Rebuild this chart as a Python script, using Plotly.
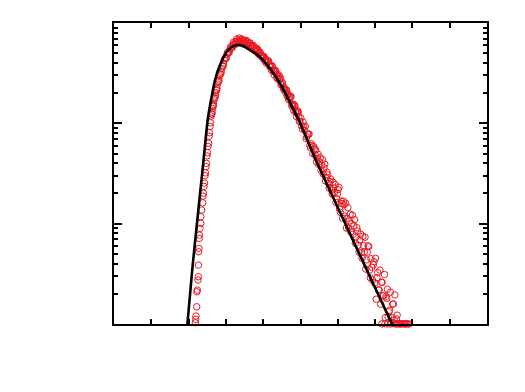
import plotly.graph_objects as go

# Fitted curve (black line): x and log10(y)
fit_x = [1.944, 2.097, 2.233, 2.373, 2.512, 2.601, 2.708, 2.842, 3.003, 3.137, 3.298,
         3.458, 3.646, 3.914, 4.182, 4.450, 4.987, 5.389, 5.657, 6.193, 6.729, 7.445, 7.50]
fit_log10_y = [-3.10, -2.463, -1.964, -1.466, -0.967, -0.768, -0.568, -0.419, -0.299, -0.244, -0.219,
               -0.229, -0.269, -0.339, -0.454, -0.603, -0.997, -1.346, -1.565, -1.994, -2.423, -2.994, -3.04]

# Measured distribution (red open circles): x and log10(y)
rise_x = [2.180, 2.190, 2.198, 2.217, 2.222, 2.233, 2.252, 2.260, 2.265, 2.271, 2.279, 2.285, 2.290,
          2.306, 2.324, 2.330, 2.351, 2.378,
          2.386, 2.399, 2.413, 2.426, 2.440, 2.453, 2.466, 2.480, 2.493, 2.507, 2.520, 2.536, 2.550,
          2.563, 2.576, 2.590,
          2.606, 2.622, 2.641, 2.660, 2.681, 2.702, 2.727, 2.751, 2.775, 2.802, 2.828, 2.858, 2.890,
          2.922, 2.957, 2.995, 3.029, 3.070, 3.110, 3.150, 3.190, 3.231, 3.271, 3.311, 3.351]
rise_log10_y = [-2.988, -2.954, -2.921, -2.828, -2.679, -2.662, -2.562, -2.529, -2.413, -2.280, -2.246,
                -2.147, -2.114, -2.047, -1.997, -1.931, -1.864, -1.792,
                -1.725, -1.697, -1.628, -1.596, -1.522, -1.494, -1.431, -1.399, -1.325, -1.293, -1.230,
                -1.199, -1.128, -1.094, -1.030, -0.995,
                -0.927, -0.909, -0.851, -0.827, -0.766, -0.746, -0.694, -0.671, -0.609, -0.583, -0.527,
                -0.508, -0.454, -0.429, -0.371, -0.355, -0.309, -0.296, -0.259, -0.247, -0.213, -0.209,
                -0.182, -0.185, -0.168]

peak_x = [2.614, 2.632, 2.651, 2.671, 2.692, 2.715, 2.739, 2.763, 2.789, 2.815, 2.843, 2.874, 2.906,
          2.940, 2.976, 3.012, 3.050, 3.090, 3.130, 3.170, 3.211, 3.251, 3.291, 3.331, 3.365]
peak_log10_y = [-0.905, -0.890, -0.828, -0.812, -0.749, -0.730, -0.666, -0.650, -0.588, -0.570, -0.507,
                -0.491, -0.428, -0.410, -0.352, -0.346, -0.290, -0.292, -0.235, -0.245, -0.190, -0.214,
                -0.160, -0.195, -0.150]

fall_x = [3.41, 3.44, 3.47, 3.50, 3.53, 3.56, 3.59, 3.62, 3.65, 3.68, 3.71, 3.74, 3.77, 3.80, 3.83,
          3.86, 3.89, 3.92, 3.95, 3.98, 4.01, 4.04, 4.07, 4.10, 4.13, 4.16, 4.19, 4.22, 4.25, 4.28,
          4.31, 4.34, 4.37, 4.40, 4.43, 4.46, 4.49, 4.52, 4.55, 4.58, 4.61, 4.64, 4.67, 4.70, 4.73,
          4.76, 4.79, 4.82, 4.85, 4.88, 4.91, 4.94, 4.97]
fall_log10_y = [-0.168, -0.195, -0.174, -0.193, -0.177, -0.212, -0.203, -0.230, -0.201, -0.233, -0.232,
                -0.230, -0.274, -0.258, -0.282, -0.266, -0.306, -0.295, -0.333, -0.332, -0.339, -0.374,
                -0.361, -0.388, -0.379, -0.422, -0.420, -0.470, -0.436, -0.485, -0.484, -0.483, -0.551,
                -0.528, -0.566, -0.545, -0.611, -0.600, -0.660, -0.660, -0.672, -0.727, -0.709, -0.751,
                -0.731, -0.813, -0.807, -0.873, -0.828, -0.894, -0.892, -0.890, -0.980]

fall2_x = [3.395, 3.425, 3.455, 3.485, 3.515, 3.545, 3.575, 3.605, 3.635, 3.665, 3.695, 3.725, 3.755,
           3.785, 3.815, 3.845, 3.875, 3.905, 3.935, 3.965, 3.995, 4.025, 4.055, 4.085, 4.115, 4.145,
           4.175, 4.205, 4.235, 4.265, 4.295, 4.325, 4.355, 4.385, 4.415, 4.445, 4.475, 4.505, 4.535,
           4.565, 4.595, 4.625, 4.655, 4.685, 4.715, 4.745, 4.775, 4.805, 4.835, 4.865, 4.895, 4.925,
           4.955, 4.985]
fall2_log10_y = [-0.184, -0.160, -0.185, -0.210, -0.182, -0.172, -0.220, -0.202, -0.197, -0.228, -0.255,
                 -0.221, -0.251, -0.276, -0.249, -0.274, -0.311, -0.289, -0.323, -0.324, -0.352, -0.335,
                 -0.367, -0.400, -0.380, -0.378, -0.434, -0.425, -0.427, -0.476, -0.517, -0.471, -0.515,
                 -0.553, -0.517, -0.555, -0.614, -0.589, -0.642, -0.646, -0.689, -0.668, -0.717, -0.767,
                 -0.742, -0.733, -0.832, -0.813, -0.818, -0.881, -0.934, -0.875, -0.933, -0.983]

tail_x = [5.01, 5.05, 5.09, 5.13, 5.17, 5.21, 5.25, 5.29, 5.33, 5.37, 5.41, 5.45, 5.49, 5.53, 5.57,
          5.61, 5.65, 5.69, 5.73, 5.77, 5.81, 5.85, 5.89, 5.93, 5.97, 6.01, 6.05, 6.09, 6.13, 6.17,
          6.21, 6.25, 6.29, 6.33, 6.37, 6.41, 6.45, 6.49, 6.53, 6.57, 6.61, 6.65, 6.69, 6.73, 6.77,
          6.81, 6.85, 6.89, 6.93, 6.97, 7.01, 7.05, 7.09, 7.13, 7.17, 7.21, 7.25, 7.29, 7.33, 7.37,
          7.41, 7.45, 7.49, 7.53, 7.57, 7.61, 7.65, 7.70, 7.74, 7.79, 7.84, 7.88]
tail_log10_y = [-0.947, -1.056, -1.036, -1.030, -1.135, -1.109, -1.219, -1.203, -1.302, -1.256, -1.265,
                -1.350, -1.409, -1.342, -1.419, -1.505, -1.406, -1.539, -1.512, -1.645, -1.555, -1.704,
                -1.645, -1.610, -1.752, -1.661, -1.855, -1.774, -1.947, -1.811, -1.796, -1.946, -2.042,
                -1.906, -2.001, -2.107, -1.961, -2.133, -2.073, -2.284, -2.104, -2.343, -2.218, -2.135,
                -2.361, -2.222, -2.461, -2.350, -2.562, -2.381, -2.345, -2.539, -2.659, -2.463, -2.582,
                -2.716, -2.506, -2.730, -2.654, -2.878, -2.683, -2.937, -2.801, -2.710, -2.950, -2.998,
                -2.999, -2.999, -2.997, -2.999, -2.997, -2.999]

tail2_x = [5.03, 5.07, 5.11, 5.15, 5.19, 5.23, 5.27, 5.31, 5.35, 5.39, 5.43, 5.47, 5.51, 5.55, 5.59,
           5.63, 5.67, 5.71, 5.75, 5.79, 5.83, 5.87, 5.91, 5.95, 5.99, 6.03, 6.07, 6.11, 6.15, 6.19,
           6.23, 6.27, 6.31, 6.35, 6.39, 6.43, 6.47, 6.51, 6.55, 6.59, 6.63, 6.67, 6.71, 6.75, 6.79,
           6.83, 6.87, 6.91, 6.95, 6.99, 7.03, 7.07, 7.11, 7.15, 7.19, 7.23, 7.27, 7.31, 7.35, 7.39,
           7.43, 7.47, 7.51, 7.55, 7.59]
tail2_log10_y = [-1.024, -0.987, -1.069, -1.152, -1.108, -1.107, -1.243, -1.224, -1.231, -1.314, -1.385,
                 -1.307, -1.384, -1.468, -1.362, -1.446, -1.574, -1.487, -1.597, -1.581, -1.665, -1.586,
                 -1.688, -1.789, -1.702, -1.637, -1.888, -1.800, -1.777, -1.924, -2.044, -1.840, -1.973,
                 -2.081, -1.915, -2.023, -2.195, -2.040, -2.214, -2.163, -2.289, -2.126, -2.286, -2.453,
                 -2.284, -2.227, -2.539, -2.434, -2.409, -2.592, -2.753, -2.487, -2.662, -2.803, -2.587,
                 -2.719, -2.936, -2.745, -2.928, -2.863, -2.985, -2.801, -2.957, -2.998, -2.912]

floor_x = [7.18, 7.26, 7.34, 7.42, 7.50, 7.58, 7.67, 7.76, 7.82, 7.91]
floor_log10_y = [-2.999, -2.997, -2.999, -2.999, -2.997, -2.999, -2.999, -2.997, -2.999, -2.999]

data_x = rise_x + peak_x + fall_x + fall2_x + tail_x + tail2_x + floor_x
data_y = [10 ** v for v in rise_log10_y + peak_log10_y + fall_log10_y + fall2_log10_y
          + tail_log10_y + tail2_log10_y + floor_log10_y]
fit_y = [10 ** v for v in fit_log10_y]

x_major = [0, 1, 2, 3, 4, 5, 6, 7, 8, 9, 10]
y_major = [1e-3, 1e-2, 1e-1, 1]
y_minor = [m * 10 ** e for e in (-3, -2, -1) for m in range(2, 10)]

red = "rgb(235,25,35)"
fig = go.Figure()
fig.add_trace(go.Scatter(
    x=data_x, y=data_y, mode="markers", cliponaxis=False,
    marker=dict(symbol="circle-open", size=6.5, color=red, line=dict(width=1, color=red)),
    showlegend=False))
fig.add_trace(go.Scatter(
    x=fit_x, y=fit_y, mode="lines", line=dict(color="black", width=2.6, shape="spline", smoothing=0.6),
    showlegend=False))

axis_common = dict(showgrid=False, zeroline=False, showline=True, linecolor="black", linewidth=2,
                   mirror="ticks", ticks="inside", tickcolor="black", showticklabels=False)
fig.update_xaxes(range=[0, 10], tickmode="array", tickvals=x_major, ticklen=5, tickwidth=1.5, **axis_common)
fig.update_yaxes(type="log", range=[-3, 0], tickmode="array", tickvals=y_major, ticklen=8, tickwidth=1.5,
                 minor=dict(ticks="inside", tickmode="array", tickvals=y_minor, ticklen=4, tickwidth=1.5,
                            tickcolor="black", showgrid=False),
                 **axis_common)
fig.update_layout(width=525, height=392, margin=dict(l=114, r=38, t=23, b=68),
                  plot_bgcolor="white", paper_bgcolor="white")
fig.write_html("out.html")
